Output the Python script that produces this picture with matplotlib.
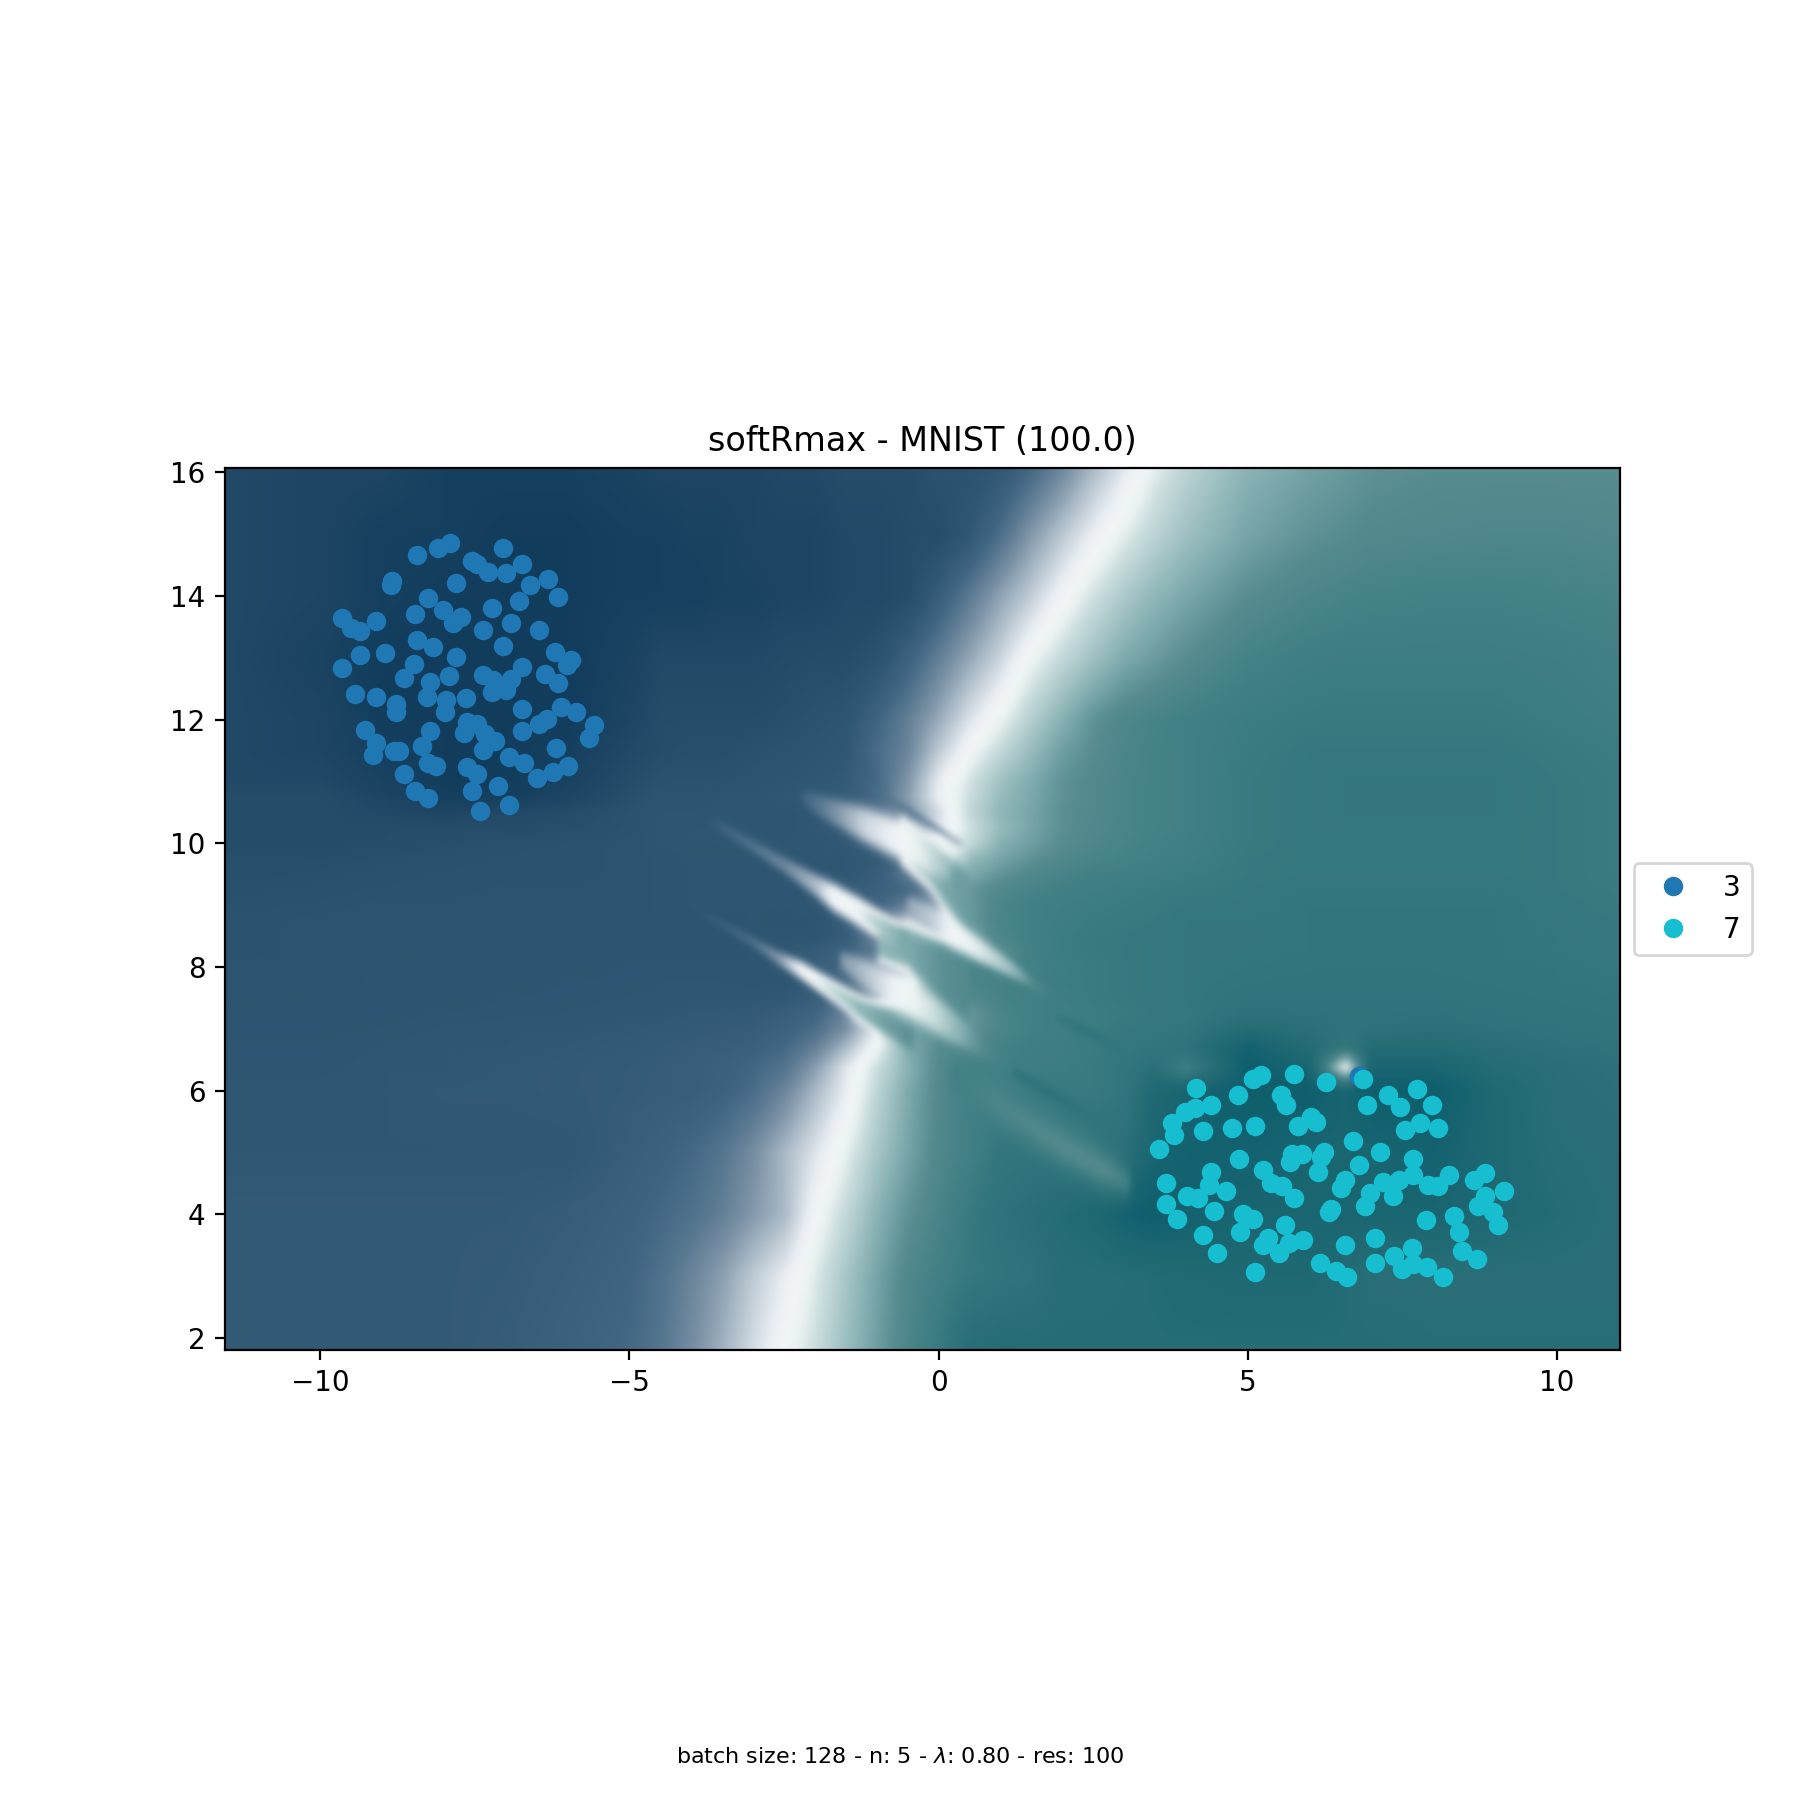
import numpy as np
import matplotlib
matplotlib.use("Agg")
import matplotlib.pyplot as plt
from matplotlib.colors import LinearSegmentedColormap

x_3 = [-8.44,-8.10,-7.90,-7.04,-7.55,-7.47,-7.29,-7.00,-6.73,-6.32,-6.61,-6.16,-8.84,-8.85,-7.81,-8.26,
       -6.78,-7.23,-8.46,-8.02,-7.73,-7.86,-6.92,-7.36,-6.47,-9.65,-9.51,-9.36,-9.10,-8.44,-8.18,-7.05,
       -9.36,-8.96,-6.21,-5.95,-6.01,-7.80,-8.49,-9.64,-8.64,-7.92,-6.73,-6.37,-7.37,-7.20,-6.92,-6.16,
       -8.22,-9.44,-9.10,-8.77,-8.78,-8.28,-7.97,-7.99,-7.65,-7.22,-7.00,-6.73,-6.10,-5.87,-5.58,-5.66,
       -6.34,-6.47,-6.73,-9.28,-9.10,-9.15,-8.81,-8.72,-8.23,-8.36,-7.63,-7.46,-7.67,-7.34,-7.18,-7.36,
       -8.26,-8.13,-7.62,-7.47,-6.94,-6.71,-6.18,-6.00,-6.24,-6.50,-8.64,-8.46,-8.26,-7.55,-7.12,-7.42,
       -6.94,6.80]
y_3 = [14.66,14.77,14.85,14.77,14.56,14.51,14.38,14.37,14.51,14.28,14.17,13.99,14.24,14.17,14.21,13.96,
       13.92,13.80,13.71,13.77,13.66,13.56,13.56,13.45,13.45,13.64,13.48,13.43,13.60,13.29,13.17,13.19,
       13.04,13.08,13.09,12.96,12.88,13.01,12.90,12.83,12.68,12.70,12.85,12.74,12.72,12.64,12.66,12.59,
       12.61,12.41,12.36,12.25,12.12,12.36,12.32,12.12,12.35,12.45,12.48,12.17,12.20,12.12,11.91,11.70,
       12.01,11.93,11.82,11.83,11.62,11.43,11.49,11.49,11.82,11.57,11.96,11.93,11.78,11.77,11.65,11.51,
       11.30,11.25,11.23,11.12,11.40,11.30,11.54,11.25,11.15,11.06,11.12,10.85,10.73,10.85,10.93,10.52,
       10.62,6.24]

x_7 = [4.17,4.85,5.09,5.22,5.75,6.27,6.87,5.54,5.62,4.40,4.15,3.99,3.78,3.80,3.57,4.27,4.75,5.12,5.82,
       6.03,6.11,6.93,7.26,7.47,7.73,7.98,7.79,7.55,8.07,6.71,7.14,7.68,6.80,4.86,5.25,5.72,5.88,5.69,
       6.24,6.19,6.13,4.41,4.38,3.67,3.67,4.02,4.20,4.65,4.46,3.86,4.27,4.51,4.93,5.09,4.88,5.37,5.56,
       5.74,6.58,6.50,6.97,6.90,7.18,7.45,7.68,7.35,7.92,8.08,8.26,8.66,8.83,9.15,8.83,8.73,8.97,9.04,
       8.34,8.41,7.89,6.34,6.31,5.61,5.32,5.25,5.51,5.67,5.90,5.11,6.17,6.42,6.61,6.58,7.05,7.05,7.37,
       7.66,7.50,7.68,7.90,8.15,8.47,8.70]
y_7 = [6.05,5.93,6.19,6.26,6.27,6.14,6.19,5.93,5.77,5.77,5.72,5.66,5.48,5.29,5.06,5.34,5.40,5.42,5.43,
       5.58,5.50,5.76,5.93,5.74,6.03,5.76,5.48,5.37,5.39,5.19,5.01,4.90,4.79,4.90,4.72,4.98,4.98,4.85,
       5.00,4.92,4.68,4.69,4.48,4.50,4.16,4.29,4.26,4.37,4.06,3.92,3.67,3.37,4.01,3.93,3.71,4.50,4.45,
       4.26,4.55,4.43,4.34,4.14,4.53,4.56,4.64,4.29,4.48,4.45,4.63,4.56,4.66,4.37,4.29,4.13,4.03,3.83,
       3.98,3.72,3.90,4.09,4.03,3.83,3.62,3.50,3.37,3.53,3.58,3.06,3.22,3.08,2.99,3.51,3.61,3.22,3.32,
       3.46,3.12,3.20,3.14,2.99,3.40,3.27]

field_x = [-11.54,-10,-9,-8,-7,-6,-5,-4.5,-4,-3.5,-3,-2.5,-2,-1.5,-1,-.5,0,.5,1,1.5,2,2.5,3,3.5,4,5,6,6.6,7,8,9,10,11.02]
field_y = [16.07,15,14,13,12,11.5,11,10.75,10.5,10.25,10,9.75,9.5,9.25,9,8.75,8.5,8.25,8,7.75,7.5,7.25,7,6.7,6.37,6,5,4,3,1.8]
field = [
    [-7.5,-8,-8,-9,-9,-9,-8.5,-8, -8,-8,-8,-7.5,-7.5,-7,-7,-7, -6.5,-6.5,-6,-4.8,-3.5,-2,-.7,.6,1.5, 2.7,3.3,3.6,3.8,4,4,4,4],
    [-7.5,-8,-9,-9,-9.5,-9.5,-9,-9, -8.5,-8.5,-8,-8,-8,-7.5,-7.5,-7, -7,-6,-4.5,-2.9,-1.6,-.4,.6,1.5,2.2, 3.2,3.8,4,4.2,4.3,4.4,4.4,4.3],
    [-7.5,-8,-9,-9.5,-9.5,-9.5,-9,-9, -9,-8.5,-8.5,-8,-8,-7.5,-7.5,-7, -5.5,-4,-2.6,-1.4,-.1,1,1.9,2.6,3.1, 4,4.5,4.7,4.8,4.9,4.9,4.8,4.7],
    [-7.5,-8.5,-9.5,-9.5,-9.5,-9.5,-8.5,-7.5, -7.5,-7.5,-7.5,-7.2,-7,-7,-6.5,-5.2, -3.8,-2.5,-1.2,.3,1.3,2.2,3,3.5,4, 4.8,5.2,5.3,5.3,5.3,5.3,5.2,5],
    [-7.5,-8,-9.5,-9.5,-9.5,-9.5,-8,-7, -7,-7,-7,-6.8,-6.5,-6.2,-5,-3.8, -2.4,-.8,.4,1.7,2.8,3.8,4.4,4.7,5, 5.4,5.6,5.6,5.6,5.6,5.6,5.4,5.2],
    [-7.5,-8,-9,-9.5,-9.5,-9,-7.5,-7, -6.8,-6.8,-6.6,-6.4,-6.2,-6,-4.6,-3.6, -1.5,.1,1.3,2.4,3.4,4,4.5,4.8,5, 5.5,5.8,5.8,5.8,5.8,5.8,5.6,5.4],
    [-7.5,-7.5,-8.5,-9.5,-9.5,-8.5,-7,-6.5, -6.5,-6.5,-6.3,-6.2,-6,-5.8,-4.8,-3, -.5,.9,2.2,3,3.8,4.2,4.6,4.8,5, 5.6,5.8,5.9,5.9,5.9,5.9,5.7,5.5],
    [-7,-7,-8,-9,-9,-8,-6.8,-6.3, -6.3,-6.2,-6.2,-6,-5.8,-5.6,-4.7,-2.8, -.4,1.1,2.4,3.1,3.8,4.2,4.6,4.8,5, 5.6,5.8,5.9,5.9,5.9,5.9,5.7,5.5],
    [-7,-7,-7.5,-8,-7.5,-7,-6.5,-6.2, -6.2,-6.2,-6.2,-6.2,-6,-5.6,-4.6,-3.2, -1,1.3,2.6,3.2,3.9,4.2,4.6,4.8,5, 5.6,5.8,5.9,5.9,5.9,5.9,5.7,5.5],
    [-7,-7,-7,-7,-7,-6.8,-6.5,-6.2, -6.1,-6.1,-6.1,-6.2,-6,-5.8,-5,-3, -.8,1,2.4,3.2,3.9,4.3,4.6,4.8,5, 5.6,5.8,5.8,5.8,5.8,5.8,5.7,5.5],
    [-7,-7,-7,-6.8,-6.6,-6.5,-6.4,-6.2, -6.1,-6.1,-6.1,-6.1,-6,-5.9,-5.5,-3.5, .5,1.2,2.8,3.4,4,4.4,4.7,4.9,5.1, 5.6,5.8,5.8,5.8,5.8,5.8,5.7,5.5],
    [-6.8,-6.8,-6.7,-6.6,-6.5,-6.5,-6.4,-6.3, -6.2,-6.2,-6.2,-6.2,-6.1,-6,-5.8,-4.5, -2,2.4,3.2,3.8,4.3,4.6,4.8,5,5.2, 5.7,5.8,5.8,5.8,5.8,5.8,5.7,5.5],
    [-6.8,-6.7,-6.6,-6.5,-6.5,-6.5,-6.4,-6.3, -6.2,-6.2,-6.2,-6.2,-6.1,-6,-5.6,-4, -3,3,3.7,4.3,4.7,5,5.1,5.2,5.4, 5.7,5.8,5.8,5.8,5.8,5.8,5.7,5.5],
    [-6.7,-6.6,-6.5,-6.5,-6.4,-6.4,-6.4,-6.3, -6.2,-6.2,-6.2,-6.2,-6.1,-5.8,-5.3,-4.8, -3,3.6,4.3,4.7,5,5.2,5.4,5.5,5.6, 5.8,5.9,5.9,5.9,5.9,5.9,5.7,5.6],
    [-6.6,-6.5,-6.4,-6.4,-6.4,-6.4,-6.4,-6.3, -6.2,-6.2,-6.2,-6.2,-6.1,-5.8,-5,-3.8, -2.4,3.5,4.5,5,5.2,5.4,5.5,5.6,5.8, 5.8,6,6,6,6,6,5.8,5.6],
    [-6.5,-6.4,-6.4,-6.4,-6.4,-6.4,-6.3,-6.3, -6.3,-6.3,-6.2,-6.3,-6.2,-5.6,-3.5,-1.5, -1.5,3.5,4.6,5,5.3,5.5,5.6,5.7,5.9, 5.9,6,6,6,6,6,5.8,5.7],
    [-6.5,-6.4,-6.4,-6.4,-6.3,-6.3,-6.3,-6.3, -6.3,-6.3,-6.2,-6.2,-6.2,-5.6,-3.5,-3, -1.5,3,4.5,5,5.4,5.6,5.7,5.8,5.9, 5.9,6,6,6,6,6,5.9,5.7],
    [-6.5,-6.4,-6.4,-6.3,-6.3,-6.3,-6.3,-6.3, -6.3,-6.3,-6.2,-6,-5.6,-5.2,-3.8,-3, 2,3,4,5,5.4,5.6,5.7,5.8,5.9, 5.9,6,6,6,6,6,5.9,5.7],
    [-6.4,-6.4,-6.3,-6.3,-6.3,-6.3,-6.2,-6.2, -6.2,-6.2,-6.2,-6,-5.5,-4.8,-3,-2, 4.2,4.6,4.6,4.9,5.3,5.5,5.7,5.8,5.9, 6,6.1,6.1,6.1,6.1,6,6,5.8],
    [-6.4,-6.4,-6.3,-6.3,-6.3,-6.2,-6.2,-6.1, -6.1,-6.1,-6.2,-6.2,-5.6,-4.5,-2.5,-1, 3.6,4.6,4.8,5,5.4,5.5,5.7,5.8,5.9, 6.1,6.2,6.2,6.2,6.2,6.1,6,5.9],
    [-6.4,-6.3,-6.3,-6.3,-6.2,-6.2,-6.1,-6.1, -6,-6,-6,-5.9,-5.5,-4.6,-2,1.5, 3,4.2,4.8,5,5.3,5.5,5.7,5.8,5.9, 6.3,6.3,6.3,6.3,6.3,6.2,6.1,6],
    [-6.3,-6.3,-6.3,-6.2,-6.2,-6.1,-6,-6, -5.9,-5.9,-5.8,-5.5,-5,-3.5,2.8,3, 3,3.5,4.6,5,5.2,5.4,5.6,5.7,5.8, 6.6,6.5,6.4,6.4,6.5,6.3,6.2,6.1],
    [-6.3,-6.3,-6.2,-6.1,-6,-6,-5.9,-5.8, -5.8,-5.7,-5.6,-5.2,-4.6,-3.2,-.5,3.2, 3.6,3.6,4.5,5,5.2,5.3,5.8,5.8,6, 7.5,6.8,6.5,6.5,6.8,6.5,6.3,6.2],
    [-6.2,-6.2,-6.1,-6,-6,-5.9,-5.8,-5.7, -5.6,-5.5,-5.3,-4.8,-3.8,-2,.2,3, 4,4.5,4.8,5.2,5.3,5.5,5.8,6,6.5, 9,7.5,6,7.5,7.5,7,6.6,6.4],
    [-6.2,-6.2,-6,-6,-5.9,-5.8,-5.7,-5.6, -5.5,-5.3,-4.9,-4.3,-2.8,-.7,1.1,2.7, 4.2,4.9,5,5.3,5.3,5.6,6,7,5, 9.5,8.5,.1,8.5,8.5,7.5,7,6.7],
    [-6,-6,-6,-5.9,-5.9,-5.8,-5.7,-5.6, -5.5,-5.2,-4.6,-3.6,-2,-.5,1.4,3, 4.2,5,5.2,5.6,5.6,5.6,6,8,8.5, 9.5,9.5,8.5,9.5,9.5,8,7,6.8],
    [-6,-6,-6,-6,-6,-6,-5.5,-5.2, -4.8,-4.2,-3.3,-2,-.8,.5,2,3.2, 4.3,5,6,6.2,6.2,6.5,6.8,8.5,9, 9,8.5,8.5,8.5,9,8,7.2,7],
    [-5.8,-5.8,-5.8,-5.8,-5.8,-5.6,-5.2,-4.8, -4.4,-3.8,-2.9,-2,0,1.3,2.7,3.8, 4.6,5.6,6.5,7,7.5,8,9,9.5,9, 8.5,8.5,8.5,8.5,8.5,8,7.5,7],
    [-5.8,-5.8,-5.8,-5.8,-5.7,-5.4,-5,-4.4, -3.6,-2.7,-1.5,-.5,.7,2,3.2,4.3, 5,5.8,6.2,6.5,7.2,7.2,7.3,7.5,7.8, 8,8,7.5,7,7,7,7,7],
    [-5.8,-5.8,-5.8,-5.8,-5.6,-5.2,-4.8,-4.2, -3.3,-2.2,-1,.1,1.1,2.3,3.4,4.5, 5.6,7.2,7.4,7.4,7.4,7.4,7.4,7.4,7.4, 7.4,7.4,7.4,7.4,7.2,7.2,7.2,7.2],
]

# streaks running down to the right, each with its centre, half width and value
upper_x = [-2.2,-1.9,-1.2,-.6,-.2,.2]
upper_y = [10.75,10.6,10.3,10.05,9.8,9.6]
upper_w = [.12,.2,.32,.36,.3,.2]
upper_v = [-5,-4,-1.2,0,.8,2.5]
middle_x = [-3.7,-3.5,-3,-2.5,-2,-1.7,-1.3,-.9,-.5]
middle_y = [10.38,10.25,9.95,9.65,9.33,9.13,8.9,8.65,8.4]
middle_w = [.05,.08,.11,.14,.2,.25,.25,.22,.2]
middle_v = [-5.8,-5,-4.3,-3.5,-2,0,.4,2,3.3]
right_x = [-.5,-.1,.24,.7,1.2,1.5,1.8]
right_y = [9.0,8.78,8.54,8.25,7.95,7.75,7.55]
right_w = [.15,.2,.24,.2,.14,.1,.06]
right_v = [-2.5,-1.4,0,.8,2.4,4,5]
lower_x = [-3.9,-3.6,-3,-2.6,-2.23,-1.8,-1.3,-.9,-.4]
lower_y = [8.9,8.75,8.4,8.15,7.95,7.67,7.35,7.12,6.82]
lower_w = [.04,.06,.09,.12,.16,.18,.2,.22,.2]
lower_v = [-6,-5.4,-4.5,-3,-.2,1,2.5,3.3,4]
blob_x = [-1.6,-1.2,-.62,-.1,.46,.8,1.1]
blob_y = [8.12,7.9,7.57,7.25,6.87,6.65,6.45]
blob_w = [.15,.24,.32,.3,.24,.18,.1]
blob_v = [-3,-1.8,0,1,3.2,4.4,5]
wedge_x = [-1,-.5,0,.5]
wedge_y = [8.35,8.32,7.98,7.6]
wedge_w = [.25,.38,.5,.6]
wedge_v = [2.5,3,3.8,4.2]
shelf_x = [-.6,-.13,.08,.3,.5]
shelf_y = [10.05,9.64,9.37,9.25,9.05]
shelf_w = [.4,.4,.4,.5,.5]
shelf_v = [1.5,2.4,3,3.4,3.5]
glow_x = [.2,1,2,2.7,3.1]
glow_y = [6.25,5.75,5.1,4.7,4.5]
glow_w = [.25,.34,.36,.36,.25]
glow_v = [5,4.5,4.2,4.2,5]
dark_x = [-1.5,-.8,-.2,.35,.45]
dark_y = [11.15,10.72,10.35,10,9.93]
dark_w = [.03,.05,.05,.04,.02]
dark_v = [-5.5,-4.2,-4.2,-3,.5]
streak1_x = [1.9,2.5,3.0]
streak1_y = [7.2,6.9,6.65]
streak1_w = [.06,.09,.06]
streak1_v = [6,6.3,6]
streak2_x = [1.2,1.9,2.7]
streak2_y = [6.3,5.9,5.45]
streak2_w = [.07,.1,.06]
streak2_v = [6.5,6.6,6.2]
streaks = [
    (glow_x, glow_y, glow_w, glow_v, 2),
    (streak1_x, streak1_y, streak1_w, streak1_v, 2),
    (streak2_x, streak2_y, streak2_w, streak2_v, 2),
    (wedge_x, wedge_y, wedge_w, wedge_v, 6),
    (shelf_x, shelf_y, shelf_w, shelf_v, 6),
    (upper_x, upper_y, upper_w, upper_v, 4),
    (right_x, right_y, right_w, right_v, 4),
    (middle_x, middle_y, middle_w, middle_v, 4),
    (lower_x, lower_y, lower_w, lower_v, 4),
    (blob_x, blob_y, blob_w, blob_v, 4),
    (dark_x, dark_y, dark_w, dark_v, 4),
]

xlim = (-11.54, 11.02)
ylim = (1.805, 16.07)

cmap_stops = [(-10,'#103a5b'),(-9,'#16405f'),(-8,'#1e4664'),(-7,'#264d6a'),(-6,'#315873'),(-5,'#3f6480'),
              (-4,'#5b7a92'),(-3,'#7f95a9'),(-2,'#a9b9c6'),(-1,'#d3dce3'),(-.5,'#e9eef2'),(0,'#f2f5f7'),
              (.5,'#eaf2f2'),(1,'#cfe0e0'),(2,'#a8c6c7'),(3,'#7fabae'),(4,'#578c90'),(5,'#418086'),
              (6,'#34767e'),(7,'#2a6f78'),(8,'#1f6972'),(9,'#146270'),(10,'#0b5b67')]
cmap = LinearSegmentedColormap.from_list('conf', [((v + 10) / 20, c) for v, c in cmap_stops], N=1024)

# resample the table on a fine grid so the value goes through zero smoothly
xx = np.linspace(xlim[0], xlim[1], 900)
yy = np.linspace(ylim[0], ylim[1], 600)
table = np.array(field)[::-1]
ys = np.array(field_y)[::-1]
img = np.array([np.interp(xx, field_x, row) for row in table])
img = np.array([np.interp(yy, ys, col) for col in img.T]).T

gx, gy = np.meshgrid(xx, yy)
for sx, sy, sw, sv, power in streaks:
    cy = np.interp(gx, sx, sy)
    w = np.interp(gx, sx, sw)
    v = np.interp(gx, sx, sv)
    mask = np.exp(-np.abs((gy - cy) / w) ** power) * (gx >= sx[0]) * (gx <= sx[-1])
    img = img * (1 - mask) + v * mask

# blur the colours, the original is a low res grid shown with interpolation
rgb = cmap((img + 10) / 20)[:, :, :3]
kernel = np.array([1, 2, 3, 4, 5, 4, 3, 2, 1], dtype=float)
kernel /= kernel.sum()
rgb = np.pad(rgb, ((4, 4), (4, 4), (0, 0)), mode='edge')
for chan in range(3):
    rgb[:, :, chan] = np.apply_along_axis(lambda r: np.convolve(r, kernel, mode='same'), 1, rgb[:, :, chan])
    rgb[:, :, chan] = np.apply_along_axis(lambda c: np.convolve(c, kernel, mode='same'), 0, rgb[:, :, chan])
rgb = rgb[4:-4, 4:-4]

fig = plt.figure(figsize=(9, 9), dpi=200)
ax = fig.add_subplot(111)
fig.subplots_adjust(left=0.125, right=0.9, bottom=0.25, top=0.74)
ax.imshow(rgb, extent=(xlim[0], xlim[1], ylim[0], ylim[1]), origin='lower', aspect='auto',
          interpolation='bilinear')
ax.plot(x_3, y_3, 'o', color='tab:blue', label='3')
ax.plot(x_7, y_7, 'o', color='tab:cyan', label='7')
ax.set_xlim(xlim)
ax.set_ylim(ylim)
ax.set_title('softRmax - MNIST (100.0)')
ax.legend(loc='center left', bbox_to_anchor=(1, 0.5))
fig.text(0.5, 0.0205, r'batch size: 128 - n: 5 - $\lambda$: 0.80 - res: 100', ha='center', fontsize=8)
fig.savefig('out.png')
